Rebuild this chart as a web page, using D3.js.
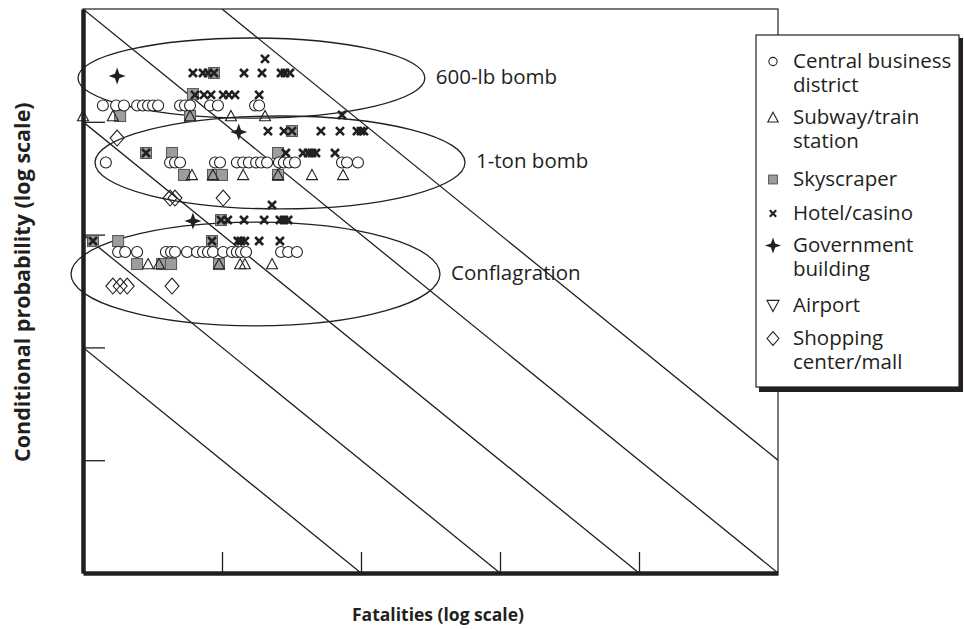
<!DOCTYPE html>
<html>
<head>
<meta charset="utf-8">
<script src="https://cdn.jsdelivr.net/npm/d3@7"></script>
<style>
  body { margin: 0; background: #fff; }
  svg { display: block; font-family: "Open Sans", sans-serif; }
</style>
</head>
<body>
<div id="chart"></div>
<script>
// tick positions (axes are unlabeled in the source figure)
const fatalityTicks = [10, 100, 1000, 10000];
const probabilityTicks = [0.0001, 0.001, 0.01, 0.1];
// iso-risk diagonals: fatalities x probability = constant
const riskLevels = [0.001, 0.01, 0.1, 1, 10];

// scenario ellipses: name, fatality span, probability span
const scenarioNames = ["600-lb bomb", "1-ton bomb", "Conflagration"];
const scenarioFatalities = [[0.92, 288], [1.22, 560], [0.82, 370]];
const scenarioProbability = [[0.108, 0.553], [0.0169, 0.1126], [0.00155, 0.0129]];

// points: [fatalities, conditional probability]
const cbd = [
  [1.39, 0.1395], [1.73, 0.1395], [1.97, 0.1395], [2.45, 0.1395], [2.70, 0.1395],
  [2.94, 0.1395], [3.19, 0.1395], [3.47, 0.1395], [4.99, 0.1395], [5.42, 0.1395],
  [5.89, 0.1395], [8.20, 0.1395], [9.35, 0.1395], [17.3, 0.1395], [18.5, 0.1395],
  [1.46, 0.0436], [4.23, 0.0436], [4.59, 0.0436], [4.99, 0.0436], [8.91, 0.0436],
  [9.68, 0.0436], [12.8, 0.0436], [14.2, 0.0436], [15.6, 0.0436], [17.6, 0.0436],
  [19.1, 0.0436], [21.1, 0.0436], [25.7, 0.0436], [27.9, 0.0436], [30.3, 0.0436],
  [33.5, 0.0436], [73.0, 0.0436], [79.3, 0.0436], [95.1, 0.0436],
  [1.79, 0.00701], [2.01, 0.00701], [2.45, 0.00701], [3.95, 0.00701], [4.30, 0.00701],
  [4.59, 0.00701], [5.60, 0.00701], [6.61, 0.00701], [7.30, 0.00701], [7.93, 0.00701],
  [8.61, 0.00701], [10.2, 0.00701], [11.8, 0.00701], [12.8, 0.00701], [13.7, 0.00701],
  [14.9, 0.00701], [26.6, 0.00701], [29.9, 0.00701], [34.6, 0.00701]
];
const subway = [
  [1.0, 0.1125], [1.64, 0.1125], [5.89, 0.1125], [11.6, 0.1125], [20.4, 0.1125],
  [6.08, 0.0338], [8.61, 0.0338], [14.2, 0.0338], [25.3, 0.0338], [44.4, 0.0338], [74.3, 0.0338],
  [2.94, 0.00548], [3.52, 0.00548], [9.51, 0.00548], [13.5, 0.00548], [14.6, 0.00548], [22.9, 0.00548]
];
const skyscraper = [
  [8.75, 0.271], [6.18, 0.176], [1.85, 0.1125], [5.89, 0.1125],
  [31.9, 0.0828], [2.84, 0.0529], [4.37, 0.0529], [25.3, 0.0529],
  [5.33, 0.0338], [8.61, 0.0338], [10.0, 0.0338], [25.3, 0.0338],
  [9.84, 0.01346], [1.18, 0.00877], [1.79, 0.00877], [8.47, 0.00877],
  [2.45, 0.00548], [3.70, 0.00548], [4.30, 0.00548], [9.51, 0.00548]
];
const hotel = [
  [20.4, 0.361],
  [6.18, 0.271], [7.30, 0.271], [7.93, 0.271], [8.75, 0.271], [14.4, 0.271],
  [19.4, 0.271], [26.6, 0.271], [28.4, 0.271], [30.8, 0.271],
  [6.39, 0.173], [7.42, 0.173], [8.34, 0.173], [10.2, 0.173], [11.2, 0.173], [12.4, 0.173], [18.5, 0.173],
  [73.0, 0.1148],
  [21.4, 0.0828], [27.9, 0.0828], [31.9, 0.0828], [51.5, 0.0828], [70.6, 0.0828],
  [93.5, 0.0828], [100, 0.0828], [105, 0.0828],
  [2.84, 0.0529], [28.8, 0.0529], [38.3, 0.0529], [41.6, 0.0529], [44.4, 0.0529], [47.4, 0.0529], [65.0, 0.0529],
  [22.9, 0.0183],
  [9.84, 0.01346], [11.0, 0.01346], [14.4, 0.01346], [20.1, 0.01346], [26.1, 0.01346], [27.9, 0.01346], [29.9, 0.01346],
  [1.18, 0.00877], [8.47, 0.00877], [13.0, 0.00877], [13.7, 0.00877], [14.6, 0.00877], [18.5, 0.00877], [26.1, 0.00877]
];
const government = [[1.76, 0.255], [13.2, 0.0812], [6.18, 0.0132]];
const airport = [];
const shopping = [
  [1.76, 0.0718], [4.23, 0.0211], [4.59, 0.0211], [10.2, 0.0211],
  [1.64, 0.0035], [1.85, 0.0035], [2.08, 0.0035], [4.37, 0.0035]
];

const legendLabels = [
  ["Central business", "district"],
  ["Subway/train", "station"],
  ["Skyscraper"],
  ["Hotel/casino"],
  ["Government", "building"],
  ["Airport"],
  ["Shopping", "center/mall"]
];
const legendSymbols = ["circle", "triangle", "square", "cross", "star", "triangleDown", "diamond"];

const ink = "#231f20";

const svg = d3.select("#chart")
  .append("svg")
  .attr("width", 964)
  .attr("height", 629);

const x = d3.scaleLog().domain([1, 1e5]).range([83, 778]);
const y = d3.scaleLog().domain([1e-5, 1]).range([573, 9]);

// clip for the plot area
svg.append("clipPath").attr("id", "plot")
  .append("rect")
  .attr("x", x(1)).attr("y", y(1))
  .attr("width", x(1e5) - x(1)).attr("height", y(1e-5) - y(1));

// frame (top and right edges)
svg.append("rect")
  .attr("x", x(1)).attr("y", y(1))
  .attr("width", x(1e5) - x(1)).attr("height", y(1e-5) - y(1))
  .attr("fill", "none").attr("stroke", ink).attr("stroke-width", 1.2);

// iso-risk lines
svg.append("g")
  .attr("clip-path", "url(#plot)")
  .selectAll("line")
  .data(riskLevels)
  .enter()
  .append("line")
  .attr("x1", r => x(Math.max(1, r)))
  .attr("y1", r => y(r / Math.max(1, r)))
  .attr("x2", r => x(Math.min(1e5, r / 1e-5)))
  .attr("y2", r => y(r / Math.min(1e5, r / 1e-5)))
  .attr("stroke", ink)
  .attr("stroke-width", 1.3);

// axes, ticks pointing inward
const yAxis = svg.append("g")
  .attr("transform", `translate(${x(1)},0)`)
  .call(d3.axisLeft(y).tickValues(probabilityTicks).tickSize(-22).tickSizeOuter(0).tickFormat(""));
const xAxis = svg.append("g")
  .attr("transform", `translate(0,${y(1e-5)})`)
  .call(d3.axisBottom(x).tickValues(fatalityTicks).tickSize(-21).tickSizeOuter(0).tickFormat(""));
[yAxis, xAxis].forEach(a => {
  a.select(".domain").attr("stroke", ink).attr("stroke-width", 4.5);
  a.selectAll(".tick line").attr("stroke", ink).attr("stroke-width", 1.3);
});

// scenario ellipses and labels
scenarioNames.forEach((name, i) => {
  const x0 = x(scenarioFatalities[i][0]), x1 = x(scenarioFatalities[i][1]);
  const y0 = y(scenarioProbability[i][1]), y1 = y(scenarioProbability[i][0]);
  const cy = (y0 + y1) / 2;
  svg.append("ellipse")
    .attr("cx", (x0 + x1) / 2).attr("cy", cy)
    .attr("rx", (x1 - x0) / 2).attr("ry", (y1 - y0) / 2)
    .attr("fill", "none").attr("stroke", ink).attr("stroke-width", 1.3);
  svg.append("text")
    .attr("x", x1 + 11).attr("y", cy + 6)
    .attr("font-size", 20.5).attr("fill", ink)
    .text(name);
});

// marker shapes
function drawSymbol(g, type, s) {
  if (type === "circle") {
    g.append("circle").attr("r", 5.5 * s)
      .attr("fill", "#fff").attr("stroke", ink).attr("stroke-width", 1.1);
  } else if (type === "triangle") {
    const h = 5.5 * s;
    g.append("path").attr("d", `M0,${-h}L${h},${h * 0.85}L${-h},${h * 0.85}Z`)
      .attr("fill", "none").attr("stroke", ink).attr("stroke-width", 1.1);
  } else if (type === "triangleDown") {
    const h = 6 * s;
    g.append("path").attr("d", `M0,${h}L${h},${-h * 0.85}L${-h},${-h * 0.85}Z`)
      .attr("fill", "none").attr("stroke", ink).attr("stroke-width", 1.1);
  } else if (type === "square") {
    const h = 5.5 * s;
    g.append("rect").attr("x", -h).attr("y", -h).attr("width", 2 * h).attr("height", 2 * h)
      .attr("fill", "#9d9d9d").attr("stroke", "#555").attr("stroke-width", 1);
  } else if (type === "cross") {
    const h = 4 * s;
    g.append("path").attr("d", `M${-h},${-h}L${h},${h}M${h},${-h}L${-h},${h}`)
      .attr("stroke", ink).attr("stroke-width", 2.6 * s);
  } else if (type === "star") {
    const r = 8.5 * s, k = 2.2 * s;
    g.append("path")
      .attr("d", `M0,${-r}L${k},${-k}L${r},0L${k},${k}L0,${r}L${-k},${k}L${-r},0L${-k},${-k}Z`)
      .attr("fill", ink);
  } else if (type === "diamond") {
    const w = 7 * s, h = 8 * s;
    g.append("path").attr("d", `M0,${-h}L${w},0L0,${h}L${-w},0Z`)
      .attr("fill", "none").attr("stroke", ink).attr("stroke-width", 1.1);
  }
}

function plotSeries(data, type) {
  svg.append("g").selectAll("g")
    .data(data)
    .enter()
    .append("g")
    .attr("transform", d => `translate(${x(d[0])},${y(d[1])})`)
    .each(function () { drawSymbol(d3.select(this), type, 1); });
}

plotSeries(skyscraper, "square");
plotSeries(cbd, "circle");
plotSeries(subway, "triangle");
plotSeries(airport, "triangleDown");
plotSeries(shopping, "diamond");
plotSeries(hotel, "cross");
plotSeries(government, "star");

// legend box with drop shadow
const legend = svg.append("g");
legend.append("rect")
  .attr("x", 759).attr("y", 38).attr("width", 204).attr("height", 354)
  .attr("fill", ink);
legend.append("rect")
  .attr("x", 756).attr("y", 35).attr("width", 203).attr("height", 352)
  .attr("fill", "#fff").attr("stroke", ink).attr("stroke-width", 1.2);

const legendBaselines = [68, 124, 186, 220, 252, 312, 345];
const legendScale = [0.75, 0.95, 0.8, 0.8, 0.95, 1.0, 0.85];
legendLabels.forEach((lines, i) => {
  const g = legend.append("g").attr("transform", `translate(773,${legendBaselines[i] - 6.5})`);
  drawSymbol(g, legendSymbols[i], legendScale[i]);
  lines.forEach((line, j) => {
    legend.append("text")
      .attr("x", 793).attr("y", legendBaselines[i] + j * 24)
      .attr("font-size", 20.5).attr("fill", ink)
      .text(line);
  });
});

// axis titles
svg.append("text")
  .attr("x", 438).attr("y", 621)
  .attr("text-anchor", "middle")
  .attr("font-size", 17.5).attr("font-weight", "bold").attr("fill", ink)
  .text("Fatalities (log scale)");
svg.append("text")
  .attr("transform", "translate(30,462)rotate(-90)")
  .attr("text-anchor", "start")
  .attr("font-size", 21.5).attr("font-weight", "bold").attr("fill", ink)
  .text("Conditional probability (log scale)");
</script>
</body>
</html>
